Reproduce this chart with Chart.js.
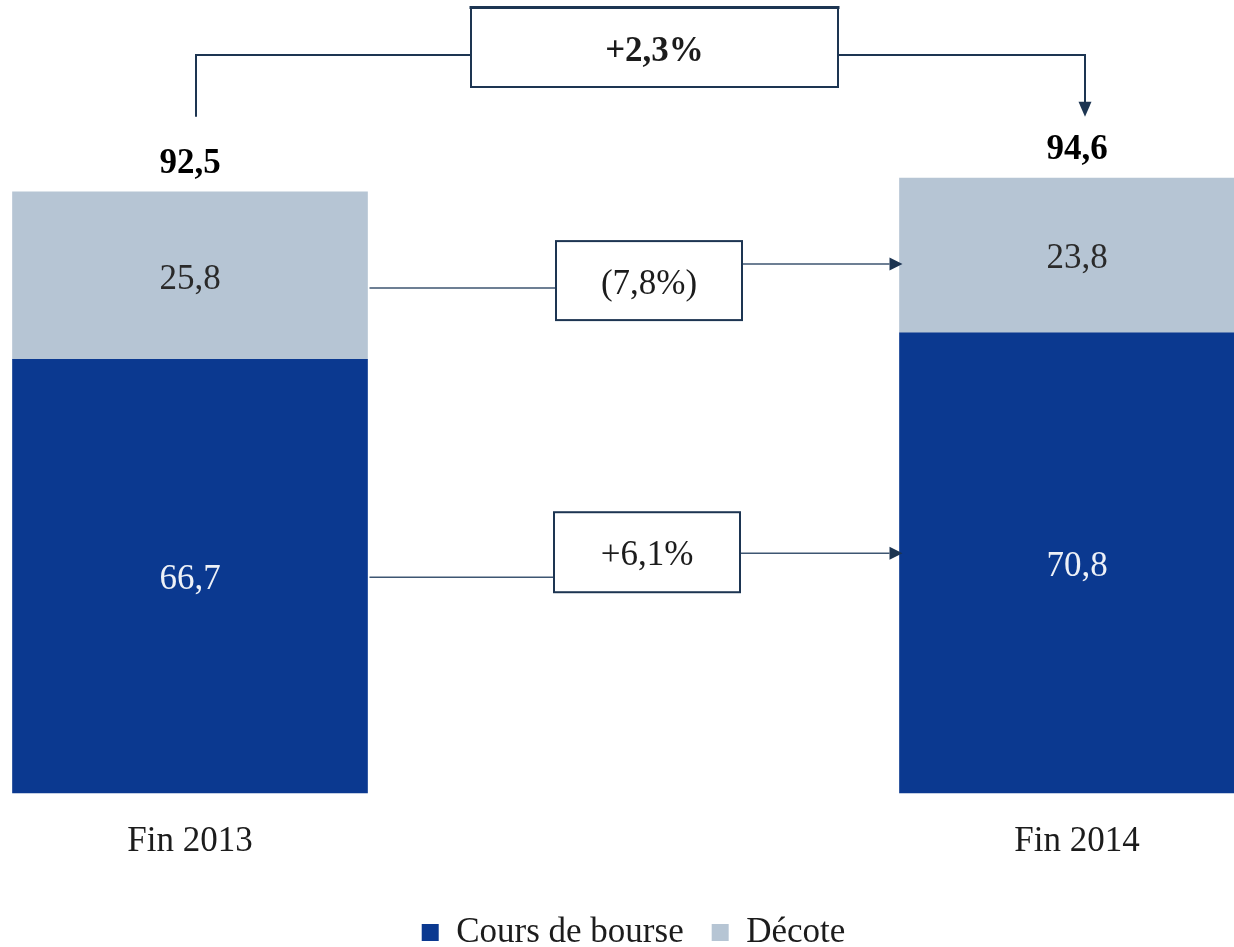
<!DOCTYPE html>
<html lang="fr">
<head>
<meta charset="utf-8">
<title>Cours de bourse et décote</title>
<script src="https://cdn.jsdelivr.net/npm/chart.js@4.4.1/dist/chart.umd.min.js"></script>
<style>
  html, body { margin: 0; padding: 0; background: #fff; overflow: hidden; }
  canvas { display: block; }
</style>
</head>
<body>
<canvas id="graphique" width="1280" height="960"></canvas>
<script>
// ── Données ───────────────────────────────────
const annees          = ['Fin 2013', 'Fin 2014']
const coursBourse     = [66.7, 70.8]
const decote          = [25.8, 23.8]
const varCours        = '+6,1%'
const varDecote       = '(7,8%)'
const variationTotale = '+2,3%'

// ── Style ─────────────────────────────────────
const BLEU   = '#0b3990'
const GRIS   = '#b6c5d4'
const TRAIT  = '#1d3552'
const LIGNE  = '#3e5672'
const TEXTE  = '#1c1c1c'
const POLICE = "'Liberation Serif', 'Times New Roman', serif"

const fmt = v => v.toFixed(1).replace('.', ',')

// flèche pleine, pointe en (x, y)
function fleche(ctx, x, y, sens) {
  ctx.beginPath()
  if (sens === 'droite') {
    ctx.moveTo(x, y); ctx.lineTo(x - 13, y - 6.5); ctx.lineTo(x - 13, y + 6.5)
  } else {
    ctx.moveTo(x, y); ctx.lineTo(x - 6.5, y - 15); ctx.lineTo(x + 6.5, y - 15)
  }
  ctx.closePath()
  ctx.fill()
}

function cadre(ctx, cx, haut, bas, largeur, texte, gras) {
  const x = cx - largeur / 2
  ctx.fillStyle = '#fff'
  ctx.fillRect(x, haut, largeur, bas - haut)
  ctx.strokeStyle = TRAIT
  ctx.lineWidth = 2
  ctx.strokeRect(x, haut, largeur, bas - haut)
  ctx.fillStyle = TEXTE
  ctx.font = `${gras ? 'bold ' : ''}35px ${POLICE}`
  ctx.textAlign = 'center'
  ctx.textBaseline = 'alphabetic'
  ctx.fillText(texte, cx, (haut + bas) / 2 + 13)
}

// ── Étiquettes, totaux et variations ──────────
const annotations = {
  id: 'annotations',
  afterDatasetsDraw(chart) {
    const { ctx, chartArea } = chart
    const cours = chart.getDatasetMeta(0).data
    const dec   = chart.getDatasetMeta(1).data
    ctx.save()
    ctx.textAlign = 'center'
    ctx.textBaseline = 'alphabetic'

    // valeurs dans chaque segment
    ctx.font = `35px ${POLICE}`
    cours.forEach((b, i) => {
      ctx.fillStyle = '#eef1f7'
      ctx.fillText(fmt(coursBourse[i]), b.x, (b.y + b.base) / 2 + 13)
    })
    dec.forEach((b, i) => {
      ctx.fillStyle = '#2a2a2a'
      ctx.fillText(fmt(decote[i]), b.x, (b.y + b.base) / 2 + 13)
    })

    // totaux au-dessus des barres
    ctx.font = `bold 35px ${POLICE}`
    ctx.fillStyle = '#000'
    dec.forEach((b, i) => {
      ctx.fillText(fmt(coursBourse[i] + decote[i]), b.x, b.y - 19)
    })

    // connecteurs entre les deux barres
    const droite1 = cours[0].x + cours[0].width / 2
    const gauche2 = cours[1].x - cours[1].width / 2
    const milieu  = (droite1 + gauche2) / 2
    const liens = [
      { seg: dec,   texte: varDecote, dy: 12.5, haut: 47, bas: 32, dx: 15.5 },
      { seg: cours, texte: varCours,  dy: 1,    haut: 65, bas: 15, dx: 13.5 }
    ]
    liens.forEach(l => {
      const yG = (l.seg[0].y + l.seg[0].base) / 2 + l.dy
      const yD = yG - 24
      const cx = milieu + l.dx
      ctx.strokeStyle = LIGNE
      ctx.lineWidth = 1.5
      ctx.beginPath()
      ctx.moveTo(droite1 + 2, yG); ctx.lineTo(cx - 93, yG)
      ctx.moveTo(cx + 93, yD); ctx.lineTo(gauche2 - 10, yD)
      ctx.stroke()
      ctx.fillStyle = TRAIT
      fleche(ctx, gauche2 + 3, yD, 'droite')
      cadre(ctx, cx, yG - l.haut, yG + l.bas, 186, l.texte, false)
    })

    // variation totale en haut
    const xG = dec[0].x + 6
    const xD = dec[1].x + 8
    const yH = chartArea.top + 55
    const cxH = (dec[0].x + dec[1].x) / 2 + 21
    ctx.strokeStyle = TRAIT
    ctx.lineWidth = 2
    ctx.beginPath()
    ctx.moveTo(xG, dec[0].y - 75); ctx.lineTo(xG, yH); ctx.lineTo(cxH, yH)
    ctx.moveTo(cxH, yH); ctx.lineTo(xD, yH); ctx.lineTo(xD, dec[0].y - 88)
    ctx.stroke()
    ctx.fillStyle = TRAIT
    fleche(ctx, xD, dec[0].y - 75, 'bas')
    cadre(ctx, cxH, chartArea.top + 8, chartArea.top + 87, 367, variationTotale, true)
    ctx.fillStyle = TRAIT
    ctx.fillRect(cxH - 185, chartArea.top + 6, 370, 3)

    ctx.restore()
  }
}

// ── Graphique ─────────────────────────────────
new Chart(document.getElementById('graphique'), {
  type: 'bar',
  data: {
    labels: annees,
    datasets: [
      { label: 'Cours de bourse', data: coursBourse, backgroundColor: BLEU, borderWidth: 0, barThickness: 355, clip: false },
      { label: 'Décote',          data: decote,      backgroundColor: GRIS, borderWidth: 0, barThickness: 355, clip: false }
    ]
  },
  options: {
    responsive: false,
    animation: false,
    layout: { padding: { left: 190, right: 203, top: 0, bottom: 0 } },
    plugins: {
      tooltip: { enabled: false },
      legend: {
        position: 'bottom',
        labels: {
          color: TEXTE,
          boxWidth: 17,
          boxHeight: 17,
          padding: 28,
          font: { family: POLICE, size: 35 }
        }
      }
    },
    scales: {
      x: {
        stacked: true,
        offset: false,
        grid: { display: false },
        border: { display: false },
        ticks: { color: TEXTE, padding: 20, font: { family: POLICE, size: 35 } },
        afterFit: s => { s.height = 94 }
      },
      y: { stacked: true, display: false, min: 0, max: 122 }
    }
  },
  plugins: [annotations]
})
</script>
</body>
</html>
